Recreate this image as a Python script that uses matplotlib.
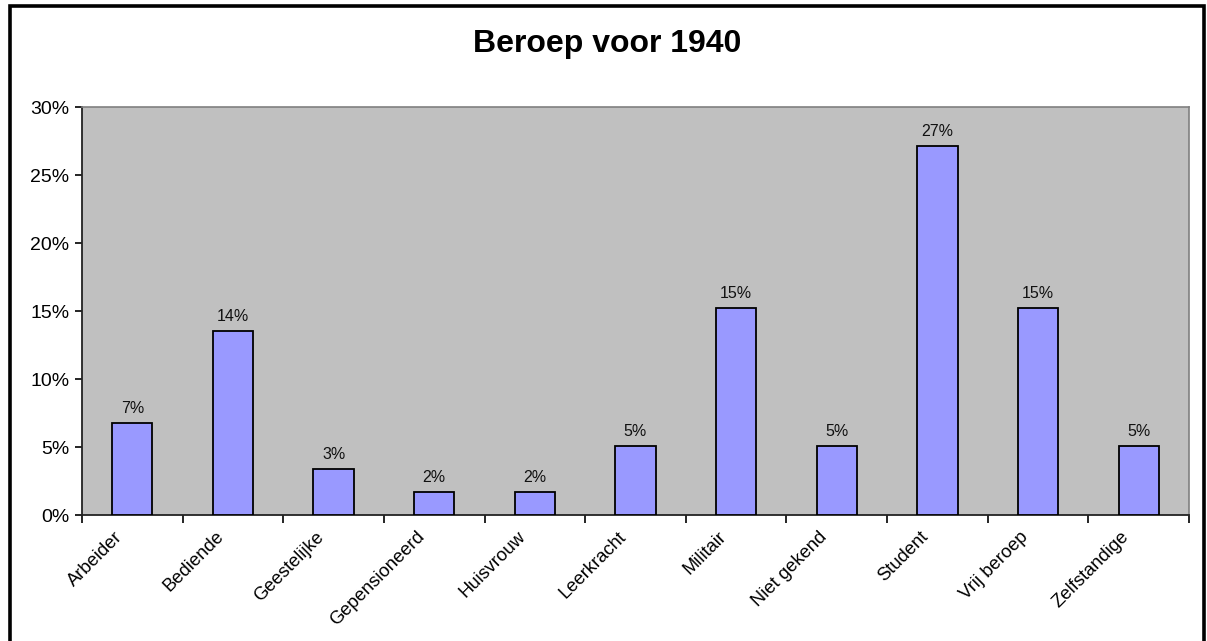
import matplotlib.pyplot as plt
import numpy as np
from matplotlib.patches import Rectangle
from matplotlib.ticker import FuncFormatter
from matplotlib.transforms import ScaledTranslation

plt.rcParams['font.family'] = ['Liberation Sans', 'DejaVu Sans']

# data
beroepen = ['Arbeider', 'Bediende', 'Geestelijke', 'Gepensioneerd', 'Huisvrouw',
            'Leerkracht', 'Militair', 'Niet gekend', 'Student', 'Vrij beroep',
            'Zelfstandige']
aandeel = [6.78, 13.56, 3.39, 1.69, 1.69, 5.08, 15.25, 5.08, 27.12, 15.25, 5.08]
etiket = ['7%', '14%', '3%', '2%', '2%', '5%', '15%', '5%', '27%', '15%', '5%']
yticks = [0, 5, 10, 15, 20, 25, 30]

W, H = 1207, 641
fig = plt.figure(figsize=(W / 100, H / 100), dpi=100)
ax = fig.add_axes([82 / W, 1 - 515 / H, (1189 - 82) / W, (515 - 107) / H])
ax.set_facecolor('#C0C0C0')

x = np.arange(len(beroepen))
bars = ax.bar(x, aandeel, width=0.4, color='#9999FF', edgecolor='black', linewidth=1.3, zorder=3)
for b, t in zip(bars, etiket):
    ax.annotate(t, (b.get_x() + b.get_width() / 2, b.get_height()),
                xytext=(0, 5), textcoords='offset points',
                ha='center', va='bottom', fontsize=11.5, color='#111111')

ax.set_xlim(-0.5, len(beroepen) - 0.5)
ax.set_ylim(0, 30)
ax.set_yticks(yticks)
ax.yaxis.set_major_formatter(FuncFormatter(lambda v, p: '%d%%' % v))
ax.tick_params(axis='y', length=5, width=1.2, labelsize=14, pad=4)

# category labels at centres, tick marks at boundaries
ax.set_xticks(x)
ax.set_xticklabels(beroepen, rotation=45, ha='right', va='top',
                   rotation_mode='anchor', fontsize=13.2)
ax.tick_params(axis='x', which='major', length=0, pad=9.5)
shift = ScaledTranslation(-0.18, 0, fig.dpi_scale_trans)
for lab in ax.get_xticklabels():
    lab.set_transform(lab.get_transform() + shift)
ax.set_xticks(np.arange(len(beroepen) + 1) - 0.5, minor=True)
ax.tick_params(axis='x', which='minor', length=6, width=1.2, direction='out')

for s in ['left', 'bottom']:
    ax.spines[s].set_color('#222222')
    ax.spines[s].set_linewidth(1.3)
for s in ['top', 'right']:
    ax.spines[s].set_color('#808080')
    ax.spines[s].set_linewidth(1.2)

fig.text(607 / W, 1 - 44 / H, 'Beroep voor 1940', ha='center', va='center',
         fontsize=23, fontweight='bold')

# outer chart border
fig.patches.append(Rectangle((9.5 / W, -0.05), (1204 - 9.5) / W, 1.05 - 6.5 / H,
                             transform=fig.transFigure, fill=False,
                             edgecolor='black', linewidth=2.6))

fig.savefig('out.png', dpi=100)
